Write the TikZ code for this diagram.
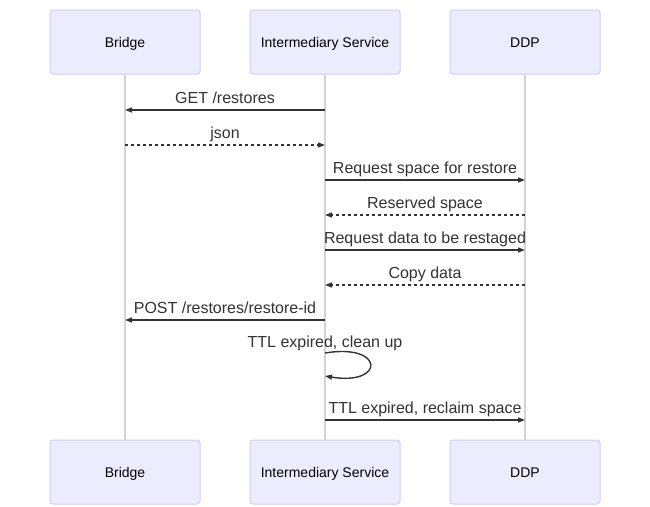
\documentclass[tikz,border=0pt]{standalone}
\usepackage{fontspec}
\setmainfont{Liberation Sans}
\usetikzlibrary{arrows.meta,calc}
\definecolor{actorFill}{HTML}{ECECFF}
\definecolor{actorLine}{HTML}{D6CCF3}
\definecolor{lifeGray}{HTML}{D3D3D3}
\definecolor{msgGray}{HTML}{333333}
\begin{document}
\begin{tikzpicture}
[x=1pt,y=-1pt,
  actorBox/.style={draw=actorLine,line width=1pt,fill=actorFill,rounded corners=3pt,%
    minimum width=150pt,minimum height=64pt,inner sep=0pt,text height=10pt,text depth=0pt,%
    font=\fontsize{14}{16}\selectfont},%
  lifeLine/.style={draw=lifeGray,line width=1.2pt},%
  msgSolid/.style={draw=msgGray,line width=1.4pt,-{Triangle[length=7pt,width=5pt]}},%
  msgDashed/.style={msgSolid,dash pattern=on 3pt off 3pt},%
  msgLabel/.style={font=\fontsize{16}{19}\selectfont,text=msgGray,anchor=base,inner sep=0pt}]
\fill[white] (0,0) rectangle (650,506);
\useasboundingbox (0,0) rectangle (650,506);
%% actors, top and bottom
\foreach \name/\x/\txt in {bridge/125/Bridge, inter/325/Intermediary Service, ddp/525/DDP}
{
  \node (\name Top) at (\x,42) [actorBox] {\txt};
  \node (\name Bot) at (\x,472) [actorBox] {\txt};
}
%% lifelines
\foreach \name in {bridge, inter, ddp}
{
  \draw[lifeLine] (\name Top.south) -- (\name Bot.north);
}
%% messages
\foreach \src/\dst/\y/\kind/\txt in {
  interTop/bridgeTop/110/msgSolid/{GET /restores},
  bridgeTop/interTop/145/msgDashed/json,
  interTop/ddpTop/180/msgSolid/Request space for restore,
  ddpTop/interTop/215/msgDashed/Reserved space,
  interTop/ddpTop/250/msgSolid/Request data to be restaged,
  ddpTop/interTop/285/msgDashed/Copy data,
  interTop/bridgeTop/320/msgSolid/{POST /restores/restore-id},
  interTop/ddpTop/420/msgSolid/{TTL expired, reclaim space}}
{
  \coordinate (m\y a) at (\src.south |- 0,\y);
  \coordinate (m\y b) at (\dst.south |- 0,\y);
  \draw[\kind] (m\y a) -- (m\y b);
  \node (t\y) at ($(m\y a)!0.5!(m\y b)+(0,-6.5)$) [msgLabel] {\txt};
}
%% self message
\coordinate (loopA) at (interTop.south |- 0,353);
\coordinate (loopB) at (interTop.south |- 0,376);
\draw[msgSolid] (loopA) .. controls +(60,-10) and +(60,10) .. (loopB);
\node (tLoop) at ($(loopA)+(0,-5.5)$) [msgLabel] {TTL expired, clean up};
\end{tikzpicture}
\end{document}
